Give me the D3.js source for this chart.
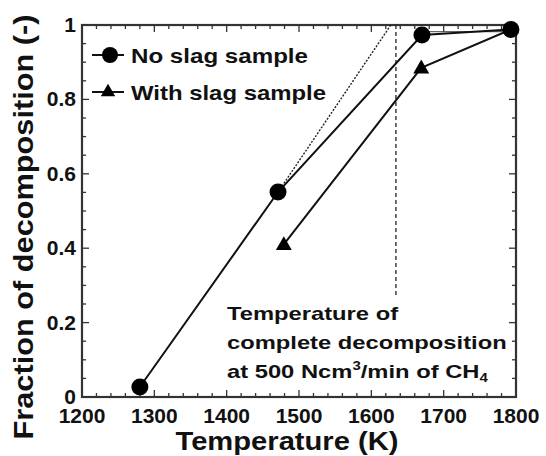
<!DOCTYPE html>
<html>
<head>
<meta charset="utf-8">
<script src="https://cdn.jsdelivr.net/npm/d3@7"></script>
<style>
  body { margin: 0; background: #fff; }
  svg { display: block; font-family: "Liberation Sans", Arial, sans-serif; font-weight: bold; }
</style>
</head>
<body>
<div id="vis"></div>
<script>
const width = 546;
const height = 456;

// data
const noSlagTemp = [1280, 1471, 1670, 1793];
const noSlagFrac = [0.027, 0.551, 0.973, 0.988];
const slagTemp = [1793, 1669, 1479];
const slagFrac = [0.988, 0.885, 0.41];
const extrapTemp = [1471, 1627];
const extrapFrac = [0.551, 1.0];
const completeTemp = 1634;
const completeFracEnd = 0.266;
const xTicks = [1200, 1300, 1400, 1500, 1600, 1700, 1800];
const yTicks = [0, 0.2, 0.4, 0.6, 0.8, 1];
const yTickLabels = ["0", "0.2", "0.4", "0.6", "0.8", "1"];

const x = d3.scaleLinear().domain([1200, 1800]).range([82, 516]);
const y = d3.scaleLinear().domain([0, 1]).range([397, 25]);

const svg = d3.select("#vis").append("svg")
  .attr("width", width)
  .attr("height", height);

const frameColor = "#333";

// ticks, pointing inward on all four sides
const minorX = d3.range(1200, 1801, 20);
const minorY = d3.range(0, 1.0001, 0.05);
const tickG = svg.append("g").attr("stroke", frameColor).attr("stroke-width", 1.3);
minorX.forEach(v => {
  const major = Math.abs(v % 100) < 1e-6;
  const len = major ? 7 : 4;
  tickG.append("line").attr("x1", x(v)).attr("x2", x(v)).attr("y1", y(0)).attr("y2", y(0) - len);
  tickG.append("line").attr("x1", x(v)).attr("x2", x(v)).attr("y1", y(1)).attr("y2", y(1) + len);
});
minorY.forEach(v => {
  const major = Math.abs(Math.round(v * 100) % 20) < 1e-6;
  const len = major ? 7 : 4;
  tickG.append("line").attr("y1", y(v)).attr("y2", y(v)).attr("x1", x(1200)).attr("x2", x(1200) + len);
  tickG.append("line").attr("y1", y(v)).attr("y2", y(v)).attr("x1", x(1800)).attr("x2", x(1800) - len);
});

// frame
svg.append("rect")
  .attr("x", x(1200)).attr("y", y(1))
  .attr("width", x(1800) - x(1200)).attr("height", y(0) - y(1))
  .attr("fill", "none").attr("stroke", frameColor).attr("stroke-width", 2.2);

// tick labels
svg.append("g").selectAll("text").data(xTicks).join("text")
  .attr("x", d => x(d)).attr("y", 423)
  .attr("text-anchor", "middle")
  .attr("font-size", 21)
  .attr("fill", "#111")
  .text(d => d);

svg.append("g").selectAll("text").data(yTicks).join("text")
  .attr("x", 76).attr("y", d => y(d) + 7)
  .attr("text-anchor", "end")
  .attr("font-size", 21)
  .attr("fill", "#111")
  .text((d, i) => yTickLabels[i]);

// axis titles
svg.append("text")
  .attr("x", 287).attr("y", 450)
  .attr("text-anchor", "middle")
  .attr("font-size", 26)
  .attr("textLength", 223).attr("lengthAdjust", "spacingAndGlyphs")
  .attr("fill", "#111")
  .text("Temperature (K)");

svg.append("text")
  .attr("transform", "translate(33,227) rotate(-90)")
  .attr("text-anchor", "middle")
  .attr("font-size", 27)
  .attr("textLength", 425).attr("lengthAdjust", "spacingAndGlyphs")
  .attr("fill", "#111")
  .text("Fraction of decomposition (-)");

// guide lines
svg.append("line")
  .attr("x1", x(completeTemp)).attr("x2", x(completeTemp))
  .attr("y1", y(1)).attr("y2", y(completeFracEnd))
  .attr("stroke", "#222").attr("stroke-width", 1.3)
  .attr("stroke-dasharray", "4,3");

svg.append("line")
  .attr("x1", x(extrapTemp[0])).attr("y1", y(extrapFrac[0]))
  .attr("x2", x(extrapTemp[1])).attr("y2", y(extrapFrac[1]))
  .attr("stroke", "#222").attr("stroke-width", 1.4)
  .attr("stroke-dasharray", "2,1.5");

svg.append("line")
  .attr("x1", x(noSlagTemp[2])).attr("x2", x(noSlagTemp[3]))
  .attr("y1", y(0.982)).attr("y2", y(0.982))
  .attr("stroke", "#444").attr("stroke-width", 1);

// series
const line = d3.line().x(d => x(d[0])).y(d => y(d[1]));
const noSlag = noSlagTemp.map((t, i) => [t, noSlagFrac[i]]);
const slag = slagTemp.map((t, i) => [t, slagFrac[i]]);

svg.append("path").datum(noSlag)
  .attr("d", line).attr("fill", "none")
  .attr("stroke", "#111").attr("stroke-width", 2);
svg.append("path").datum(slag)
  .attr("d", line).attr("fill", "none")
  .attr("stroke", "#111").attr("stroke-width", 2);

svg.append("g").selectAll("circle").data(noSlag).join("circle")
  .attr("cx", d => x(d[0])).attr("cy", d => y(d[1]))
  .attr("r", 8.5).attr("fill", "#000");

const tri = d3.symbol().type(d3.symbolTriangle).size(110);
svg.append("g").selectAll("path").data(slag.slice(1)).join("path")
  .attr("transform", d => `translate(${x(d[0])},${y(d[1]) + 1})`)
  .attr("d", tri).attr("fill", "#000");

// legend
const legend = svg.append("g");
legend.append("line").attr("x1", 92).attr("x2", 124).attr("y1", 55).attr("y2", 55)
  .attr("stroke", "#111").attr("stroke-width", 2);
legend.append("circle").attr("cx", 110).attr("cy", 55).attr("r", 8).attr("fill", "#000");
legend.append("text").attr("x", 131).attr("y", 63).attr("font-size", 21)
  .attr("textLength", 177).attr("lengthAdjust", "spacingAndGlyphs")
  .attr("fill", "#111").text("No slag sample");

legend.append("line").attr("x1", 92).attr("x2", 124).attr("y1", 92).attr("y2", 92)
  .attr("stroke", "#111").attr("stroke-width", 2);
legend.append("path").attr("transform", "translate(108,92)")
  .attr("d", d3.symbol().type(d3.symbolTriangle).size(90)).attr("fill", "#000");
legend.append("text").attr("x", 131).attr("y", 100).attr("font-size", 21)
  .attr("textLength", 195).attr("lengthAdjust", "spacingAndGlyphs")
  .attr("fill", "#111").text("With slag sample");

// annotation, glyphs a bit wider than the font's own
const note = svg.append("g")
  .attr("transform", "translate(227,0) scale(1.25,1)")
  .attr("font-size", 19).attr("fill", "#111");
note.append("text").attr("x", 0).attr("y", 320).text("Temperature of");
note.append("text").attr("x", 0).attr("y", 349).text("complete decomposition");
const l3 = note.append("text").attr("x", 0).attr("y", 378);
l3.append("tspan").text("at 500 Ncm");
l3.append("tspan").attr("font-size", 12).attr("dy", -8).text("3");
l3.append("tspan").attr("dy", 8).text("/min of CH");
l3.append("tspan").attr("font-size", 12).attr("dy", 4).text("4");
</script>
</body>
</html>
